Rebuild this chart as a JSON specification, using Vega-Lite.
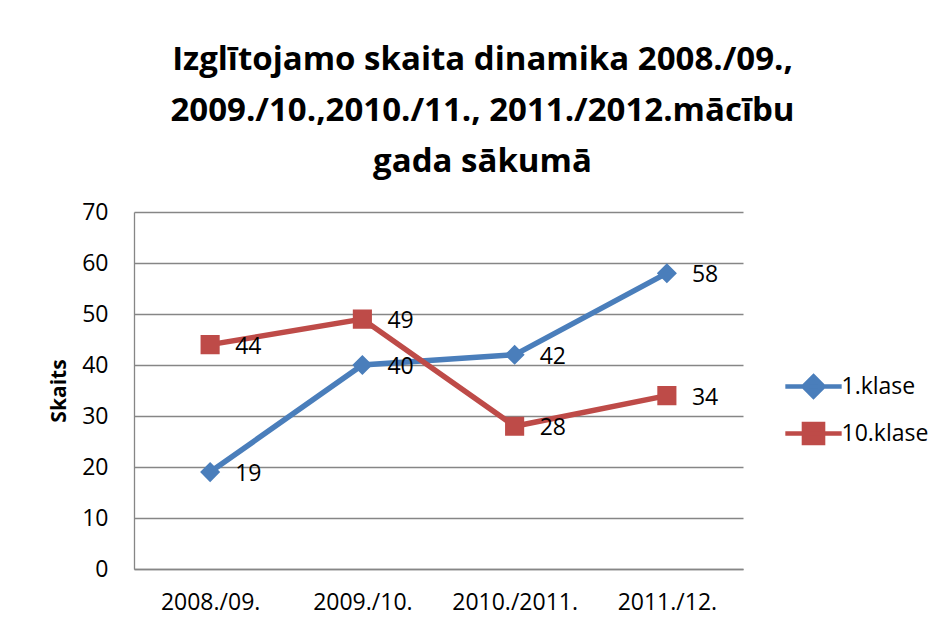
{
  "$schema": "https://vega.github.io/schema/vega-lite/v6.json",
  "width": 609,
  "height": 357,
  "autosize": {"type": "none"},
  "padding": {"left": 134, "top": 212, "right": 199, "bottom": 61},
  "background": "white",
  "title": {
    "text": ["Izglītojamo skaita dinamika 2008./09.,", "2009./10.,2010./11., 2011./2012.mācību", "gada sākumā"],
    "font": "Open Sans",
    "fontSize": 33,
    "fontWeight": "bold",
    "lineHeight": 51,
    "anchor": "middle",
    "dx": 44,
    "offset": 22,
    "color": "black"
  },
  "data": {
    "values": [
      {"period": "2008./09.", "series": "1.klase", "value": 19},
      {"period": "2009./10.", "series": "1.klase", "value": 40},
      {"period": "2010./2011.", "series": "1.klase", "value": 42},
      {"period": "2011./12.", "series": "1.klase", "value": 58},
      {"period": "2008./09.", "series": "10.klase", "value": 44},
      {"period": "2009./10.", "series": "10.klase", "value": 49},
      {"period": "2010./2011.", "series": "10.klase", "value": 28},
      {"period": "2011./12.", "series": "10.klase", "value": 34}
    ]
  },
  "encoding": {
    "x": {
      "field": "period",
      "type": "ordinal",
      "sort": ["2008./09.", "2009./10.", "2010./2011.", "2011./12."],
      "scale": {"type": "point", "padding": 0.5},
      "axis": {"title": null, "labelAngle": 0, "labelPadding": 22, "grid": false, "ticks": false}
    },
    "y": {
      "field": "value",
      "type": "quantitative",
      "scale": {"domain": [0, 70], "nice": false},
      "axis": {
        "values": [0, 10, 20, 30, 40, 50, 60, 70],
        "title": "Skaits",
        "titleFont": "Open Sans",
        "titleFontWeight": "bold",
        "titleFontSize": 21,
        "titleColor": "black",
        "titlePadding": 12,
        "labelPadding": 26,
        "grid": true,
        "ticks": false
      }
    },
    "color": {
      "field": "series",
      "type": "nominal",
      "scale": {"domain": ["1.klase", "10.klase"], "range": ["#4A7EBB", "#BE4B48"]},
      "legend": {
        "orient": "none",
        "legendX": 652.5,
        "legendY": 147.5,
        "title": null,
        "padding": 0,
        "symbolSize": 2401,
        "rowPadding": 0,
        "labelOffset": 1,
        "labelFont": "Open Sans",
        "labelFontSize": 23,
        "labelColor": "black",
        "encode": {
          "symbols": {
            "update": {
              "stroke": {"signal": "datum.value === '1.klase' ? '#4A7EBB' : '#BE4B48'"},
              "strokeWidth": {"value": 4.5},
              "opacity": {"value": 1},
              "fillOpacity": {"value": 1},
              "strokeOpacity": {"value": 1}
            }
          }
        }
      }
    }
  },
  "layer": [
    {"mark": {"type": "line", "strokeWidth": 5.5}},
    {
      "mark": {"type": "point", "filled": true, "size": 2401, "opacity": 1},
      "encoding": {
        "shape": {
          "field": "series",
          "type": "nominal",
          "scale": {
            "domain": ["1.klase", "10.klase"],
            "range": [
              "M-1.15,0H1.15M0,-0.41L0.41,0L0,0.41L-0.41,0Z",
              "M-1.15,0H1.15M-0.39,-0.39H0.39V0.39H-0.39Z"
            ]
          },
          "legend": null
        }
      }
    },
    {
      "mark": {"type": "text", "align": "left", "baseline": "middle", "dx": 25, "dy": 2, "font": "Open Sans", "fontSize": 23},
      "encoding": {
        "text": {"field": "value", "type": "quantitative"},
        "color": {"value": "black"}
      }
    }
  ],
  "config": {
    "view": {"stroke": null},
    "axis": {
      "labelFont": "Open Sans",
      "labelFontSize": 23,
      "labelColor": "black",
      "gridColor": "#868686",
      "gridWidth": 1.3,
      "gridOpacity": 1,
      "domainColor": "#868686",
      "domainWidth": 1.3
    }
  }
}
